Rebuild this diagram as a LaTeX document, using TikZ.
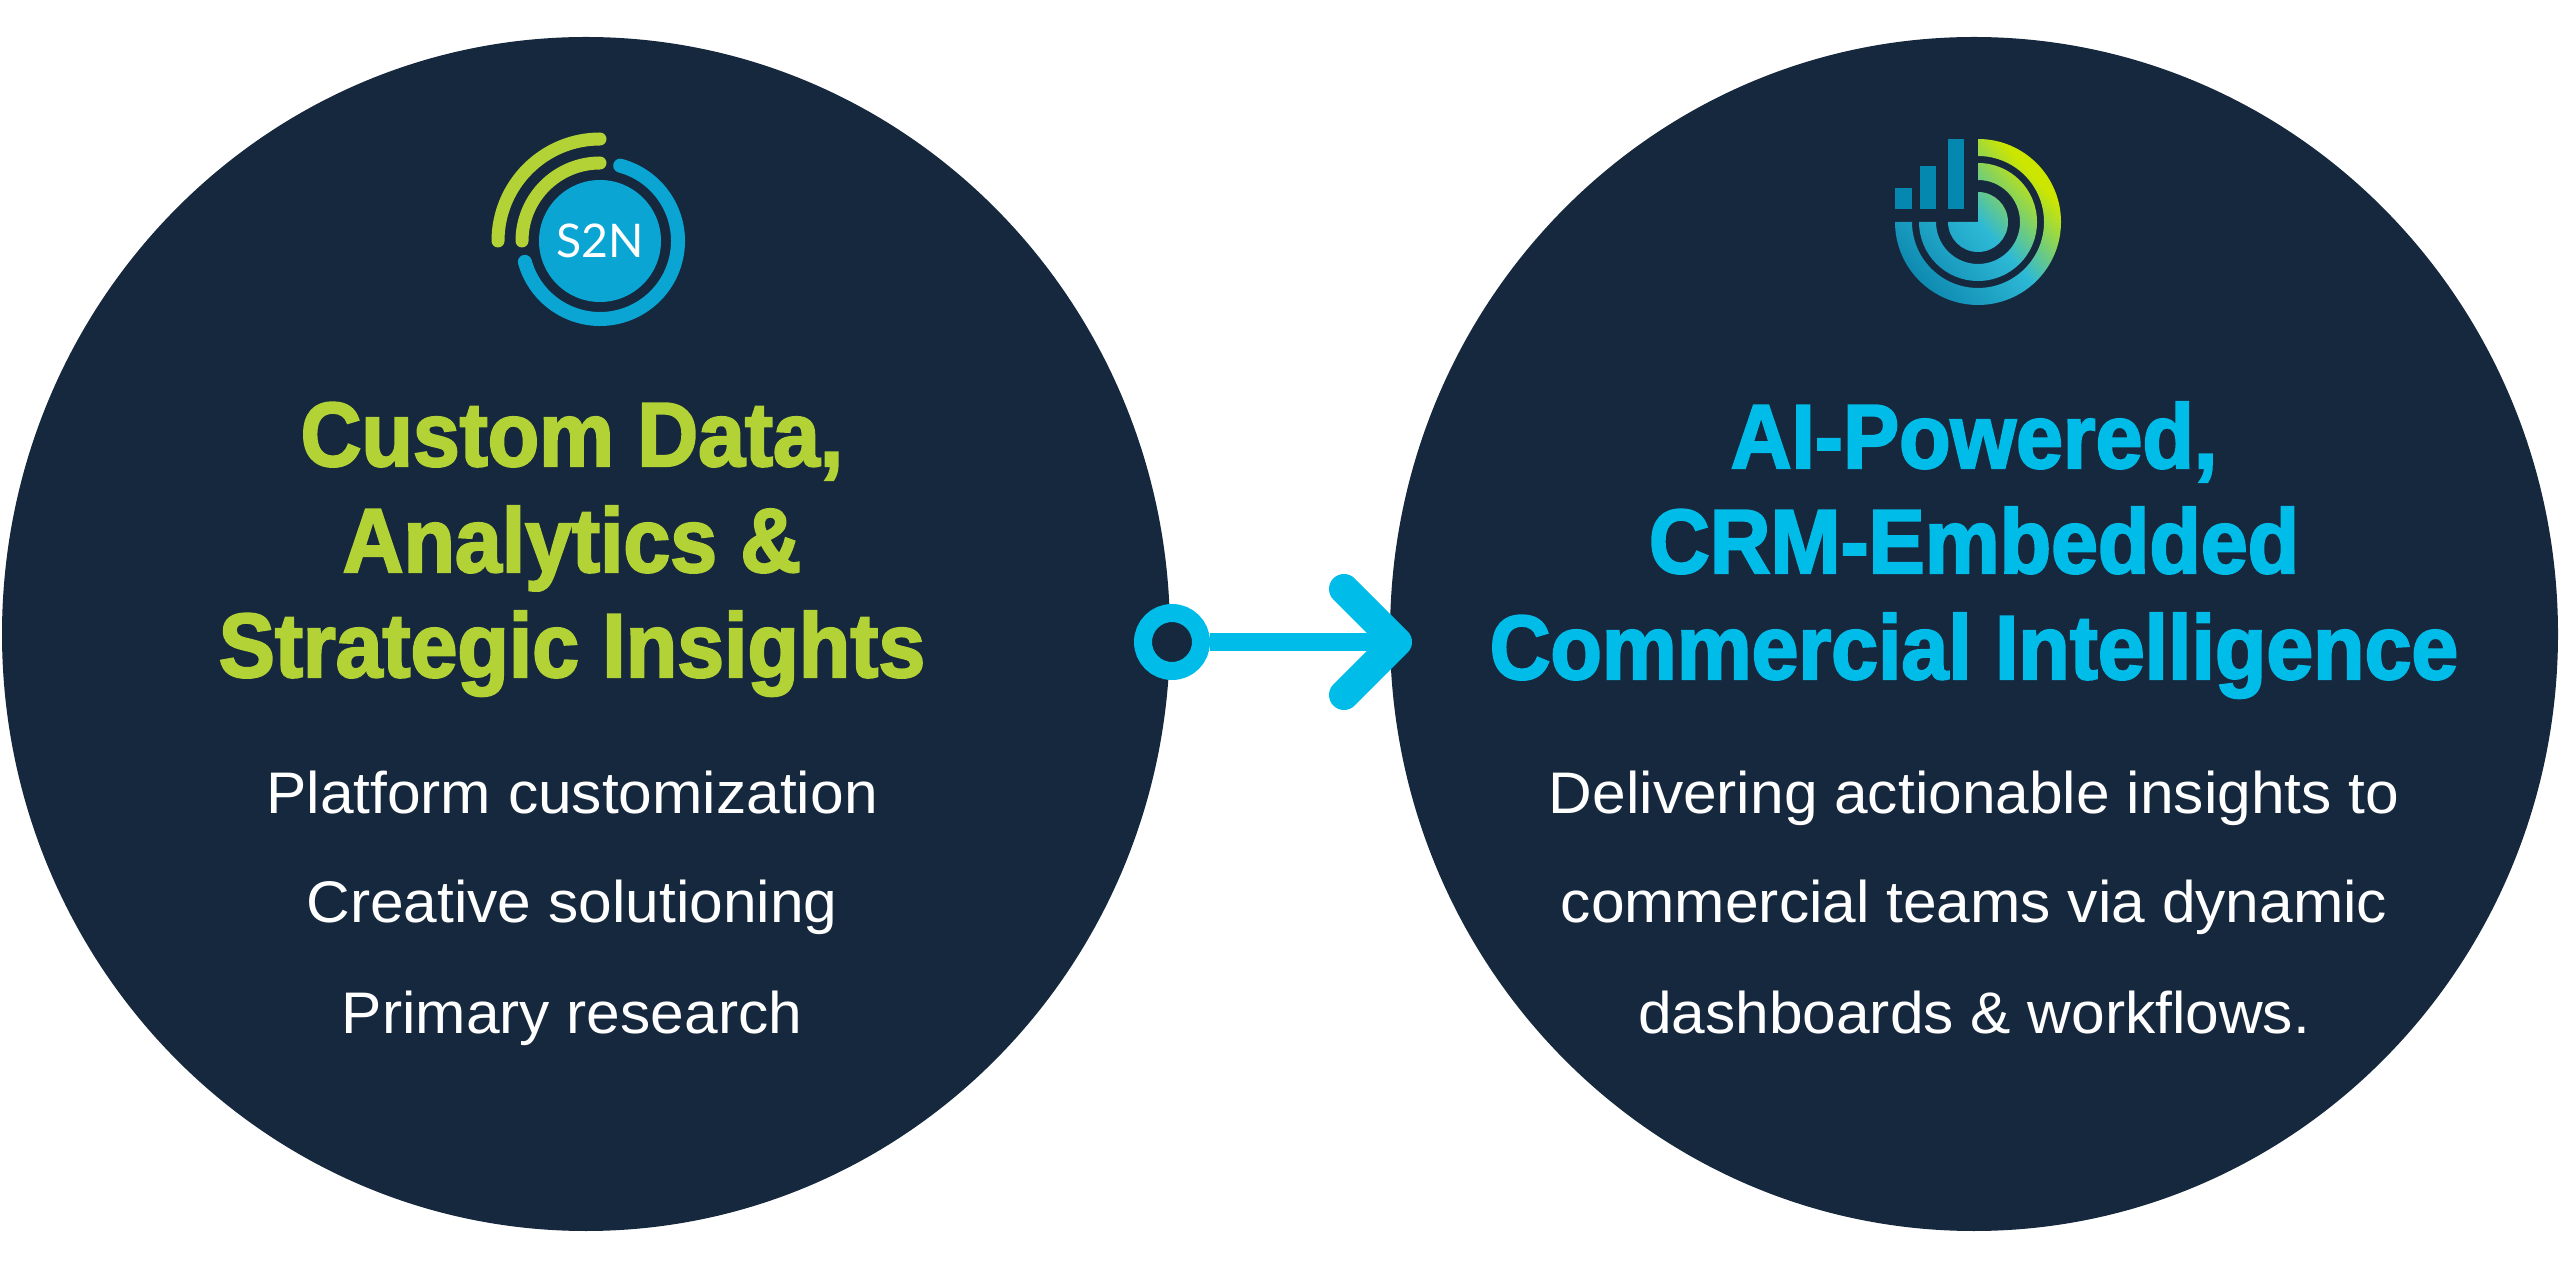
\documentclass[tikz,border=0pt]{standalone}
\usepackage{fontspec}
\usetikzlibrary{shapes.geometric,arrows.meta}
\newfontfamily\headfont[FakeStretch=0.925,FakeBold=2.4]{Liberation Sans Bold}
\newfontfamily\bodyfont[FakeStretch=1.03]{Liberation Sans}
\newfontfamily\markfont{Lato}
\definecolor{discnavy}{HTML}{16283D}
\definecolor{limegreen}{HTML}{B2D235}
\definecolor{skycyan}{HTML}{00BCE8}
\definecolor{markcyan}{HTML}{0AA5D3}
\definecolor{barteal}{HTML}{0488B0}
\definecolor{logoteal}{HTML}{0C86AE}
\definecolor{logocyan}{HTML}{2DB9D6}
\definecolor{logolime}{HTML}{CDE600}
\pgfdeclareverticalshading{logofade}{100bp}{color(0bp)=(logoteal); color(25bp)=(logoteal); color(50bp)=(logocyan); color(70bp)=(logolime); color(100bp)=(logolime)}
\newcommand{\ringpiece}[2]{(0,#1) arc[start angle=90,end angle=-180,radius=#1] -- (-#2,0) arc[start angle=-180,end angle=90,radius=#2] -- cycle}
\tikzset{
  disc/.style={ellipse,fill=discnavy,inner sep=0pt,minimum width=11.68cm,minimum height=11.94cm},
  headline/.style={anchor=base,font=\headfont\fontsize{25.9}{30}\selectfont},
  bodyline/.style={anchor=base,text=white,font=\bodyfont\fontsize{16.7}{20}\selectfont},
  greenarc/.style={draw=limegreen,line width=.13cm,line cap=round},
  bluearc/.style={draw=markcyan,line width=.14cm,line cap=round},
  flow/.style={draw=skycyan,line width=.187cm,-{Straight Barb[length=.53cm,width=1.06cm,line width=.3cm,round]}}
}
\begin{document}
\begin{tikzpicture}
\useasboundingbox (0,0) rectangle (25.6,12.84);
\node[disc] (leftdisc) at (5.86,6.50) {};
\node[disc] (rightdisc) at (19.74,6.50) {};
\node[circle,fill=markcyan,inner sep=0pt,minimum size=1.22cm,text=white,font=\markfont\fontsize{13.2}{14}\selectfont] (s2nmark) at (6.00,10.43) {S2N};
\draw[greenarc] (s2nmark.center) ++(-.78,0) arc[start angle=180,end angle=90,radius=.78];
\draw[greenarc] (s2nmark.center) ++(-1.02,0) arc[start angle=180,end angle=90,radius=1.02];
\draw[bluearc] (s2nmark.center) ++(75:.78) arc[start angle=75,end angle=-164.5,radius=.78];
\begin{scope}[shift={(19.78,10.62)}]
\begin{scope}
\clip \ringpiece{.83}{.66} \ringpiece{.59}{.42} (0,.30) arc[start angle=90,end angle=-180,radius=.30] -- (0,0) -- cycle;
\shade[shading=logofade,shading angle=-48] (-.9,-.9) rectangle (.9,.9);
\end{scope}
\foreach \xa/\xb/\ytop in {-.83/-.66/.34,-.58/-.42/.56,-.30/-.14/.83}
  \fill[barteal] (\xa,.13) rectangle (\xb,\ytop);
\end{scope}
\node[headline,text=limegreen] (leftheadone) at (5.72,8.18) {Custom Data,};
\node[headline,text=limegreen] (leftheadtwo) at (5.72,7.12) {Analytics \&};
\node[headline,text=limegreen] (leftheadthree) at (5.72,6.07) {Strategic Insights};
\node[headline,text=skycyan] (rightheadone) at (19.74,8.16) {AI-Powered,};
\node[headline,text=skycyan] (rightheadtwo) at (19.74,7.11) {CRM-Embedded};
\node[headline,text=skycyan] (rightheadthree) at (19.74,6.05) {Commercial Intelligence};
\node[bodyline] (leftbodyone) at (5.72,4.70) {Platform customization};
\node[bodyline] (leftbodytwo) at (5.72,3.61) {Creative solutioning};
\node[bodyline] (leftbodythree) at (5.72,2.51) {Primary research};
\node[bodyline] (rightbodyone) at (19.74,4.70) {Delivering actionable insights to};
\node[bodyline] (rightbodytwo) at (19.74,3.61) {commercial teams via dynamic};
\node[bodyline] (rightbodythree) at (19.74,2.51) {dashboards \& workflows.};
\node[circle,draw=skycyan,line width=.18cm,fill=discnavy,inner sep=0pt,minimum size=.58cm] (ring) at (11.72,6.42) {};
\coordinate (arrowend) at (14.12,6.42);
\draw[flow] (ring) -- (arrowend);
\end{tikzpicture}
\end{document}
